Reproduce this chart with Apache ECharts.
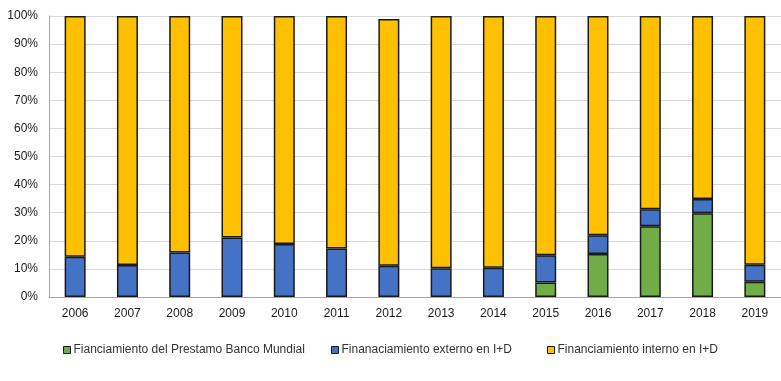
<!DOCTYPE html>
<html><head><meta charset="utf-8">
<script src="https://cdn.jsdelivr.net/npm/echarts@6/dist/echarts.min.js"></script>
<style>html,body{margin:0;padding:0;background:#fff}#c{width:781px;height:381px}</style>
</head><body><div id="c"></div>
<script>
var years = ['2006','2007','2008','2009','2010','2011','2012','2013','2014','2015','2016','2017','2018','2019'];
var bancoMundial = [0,0,0,0,0,0,0,0,0,5.2,15.3,25.2,29.8,5.4];
var externo = [14.3,11.4,15.8,21.2,18.9,17.3,11.1,10.2,10.4,9.7,6.7,6.0,5.1,6.1];
var interno = [85.7,88.6,84.2,78.8,81.1,82.7,87.8,89.8,89.6,85.1,78.0,68.8,65.1,88.5];
var yTicks = [0,10,20,30,40,50,60,70,80,90,100];
var names = ['Fianciamiento del Prestamo Banco Mundial','Finanaciamiento externo en I+D','Financiamiento interno en I+D'];
var colors = ['#70AD47','#4472C4','#FFC000'];

var FONT = '"Liberation Sans", Arial, sans-serif';
var chart = echarts.init(document.getElementById('c'));
function mkSeries(i, data){
  return {name:names[i], type:'bar', stack:'t',
    data:data.map(function(v){return v===0 ? '-' : v;}), barWidth:21,
    itemStyle:{color:colors[i], borderColor:'#1a1a1a', borderWidth:1.5}};
}
function mkLegend(i, left){
  return {data:[names[i]], left:left, top:339, icon:'rect', itemWidth:7, itemHeight:7,
    itemGap:0, textStyle:{fontFamily:FONT, fontSize:12, color:'#333', padding:[0,0,0,-2]},
    itemStyle:{borderColor:'#1a1a1a', borderWidth:1}};
}
chart.setOption({
  animation:false,
  grid:{left:49, right:-9, top:16, bottom:84, containLabel:false},
  legend:[mkLegend(0,58), mkLegend(1,326), mkLegend(2,542)],
  xAxis:{type:'category', data:years,
    axisLine:{lineStyle:{color:'#a6a6a6'}}, axisTick:{show:false},
    axisLabel:{fontFamily:FONT, fontSize:12, color:'#1a1a1a', margin:11}},
  yAxis:{type:'value', min:0, max:100, interval:10,
    axisLine:{show:true, lineStyle:{color:'#a6a6a6'}}, axisTick:{show:false},
    splitLine:{lineStyle:{color:'#d9d9d9'}},
    axisLabel:{fontFamily:FONT, fontSize:12, color:'#1a1a1a', margin:11,
      formatter:function(v){return yTicks.indexOf(v)>=0 ? v+'%' : '';}}},
  series:[mkSeries(0,bancoMundial), mkSeries(1,externo), mkSeries(2,interno)]
});
</script></body></html>
